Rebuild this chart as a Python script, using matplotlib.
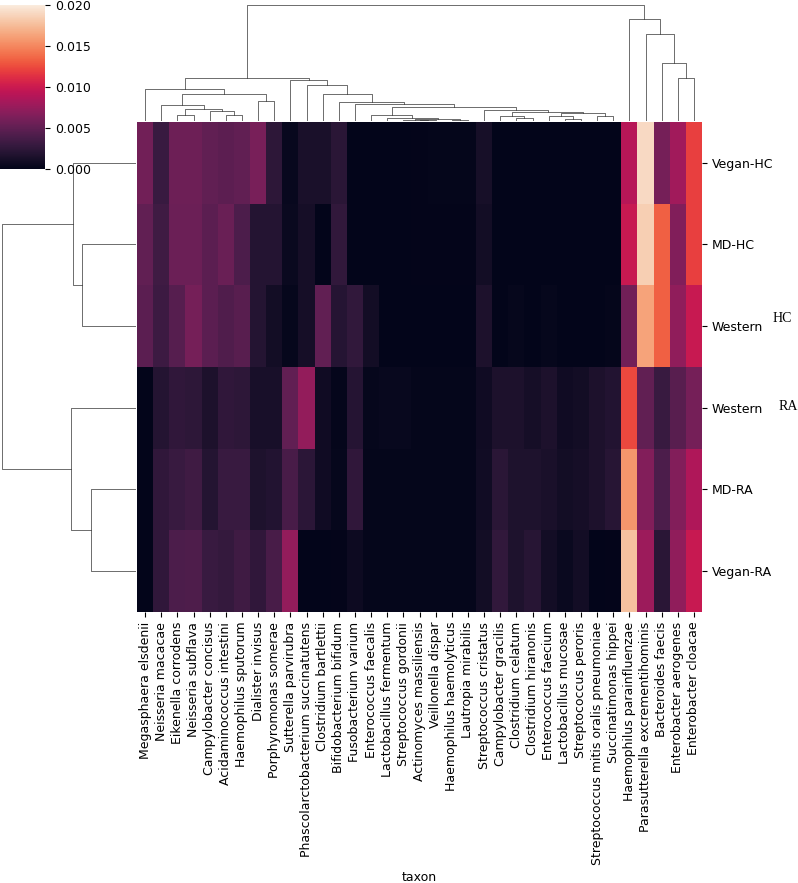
import matplotlib
matplotlib.use("Agg")
import matplotlib.pyplot as plt
import matplotlib.transforms as mtransforms
import numpy as np
import pandas as pd
import seaborn as sns

# ---------------------------------------------------------------------------
# Data (displayed order)
# ---------------------------------------------------------------------------
taxa = [
    "Megasphaera elsdenii", "Neisseria macacae", "Eikenella corrodens",
    "Neisseria subflava", "Campylobacter concisus", "Acidaminococcus intestini",
    "Haemophilus sputorum", "Dialister invisus", "Porphyromonas somerae",
    "Sutterella parvirubra", "Phascolarctobacterium succinatutens",
    "Clostridium bartlettii", "Bifidobacterium bifidum", "Fusobacterium varium",
    "Enterococcus faecalis", "Lactobacillus fermentum", "Streptococcus gordonii",
    "Actinomyces massiliensis", "Veillonella dispar", "Haemophilus haemolyticus",
    "Lautropia mirabilis", "Streptococcus cristatus", "Campylobacter gracilis",
    "Clostridium celatum", "Clostridium hiranonis", "Enterococcus faecium",
    "Lactobacillus mucosae", "Streptococcus peroris",
    "Streptococcus mitis oralis pneumoniae", "Succinatimonas hippei",
    "Haemophilus parainfluenzae", "Parasutterella excrementihominis",
    "Bacteroides faecis", "Enterobacter aerogenes", "Enterobacter cloacae",
]

groups = ["Vegan-HC", "MD-HC", "Western", "Western", "MD-RA", "Vegan-RA"]
group_suffix = {2: "HC", 3: "RA"}

vegan_hc = [0.0058, 0.0030, 0.0056, 0.0056, 0.0050, 0.0048, 0.0050, 0.0061, 0.0024,
            0.0004, 0.0014, 0.0014, 0.0022, 0.0, 0.0, 0.0, 0.0, 0.0001, 0.0002,
            0.0002, 0.0002, 0.0012, 0.0, 0.0, 0.0, 0.0, 0.0, 0.0, 0.0, 0.0,
            0.0090, 0.0190, 0.0060, 0.0080, 0.0120]
md_hc = [0.0050, 0.0033, 0.0055, 0.0055, 0.0047, 0.0054, 0.0040, 0.0019, 0.0019,
         0.0005, 0.0011, 0.0, 0.0026, 0.0, 0.0, 0.0, 0.0, 0.0001, 0.0001,
         0.0001, 0.0001, 0.0010, 0.0, 0.0, 0.0, 0.0, 0.0, 0.0, 0.0, 0.0,
         0.0098, 0.0185, 0.0133, 0.0065, 0.0120]
western_hc = [0.0047, 0.0032, 0.0045, 0.0060, 0.0047, 0.0042, 0.0046, 0.0019, 0.0010,
              0.0003, 0.0011, 0.0050, 0.0020, 0.0026, 0.0010, 0.0, 0.0, 0.0, 0.0,
              0.0, 0.0, 0.0015, 0.0, 0.0003, 0.0, 0.0003, 0.0, 0.0, 0.0, 0.0002,
              0.0058, 0.0163, 0.0133, 0.0072, 0.0098]
western_ra = [0.0, 0.0019, 0.0025, 0.0024, 0.0015, 0.0025, 0.0024, 0.0013, 0.0013,
              0.0050, 0.0074, 0.0008, 0.0002, 0.0020, 0.0003, 0.0004, 0.0004, 0.0002,
              0.0002, 0.0002, 0.0002, 0.0008, 0.0015, 0.0015, 0.0011, 0.0015, 0.0008,
              0.0010, 0.0015, 0.0018, 0.0124, 0.0050, 0.0030, 0.0046, 0.0060]
md_ra = [0.0, 0.0025, 0.0030, 0.0033, 0.0019, 0.0030, 0.0030, 0.0016, 0.0018,
         0.0038, 0.0023, 0.0008, 0.0003, 0.0025, 0.0002, 0.0002, 0.0002, 0.0002,
         0.0002, 0.0002, 0.0002, 0.0009, 0.0022, 0.0016, 0.0016, 0.0014, 0.0010,
         0.0011, 0.0015, 0.0021, 0.0157, 0.0066, 0.0040, 0.0066, 0.0086]
vegan_ra = [0.0, 0.0025, 0.0040, 0.0041, 0.0030, 0.0028, 0.0033, 0.0025, 0.0038,
            0.0074, 0.0, 0.0, 0.0001, 0.0007, 0.0002, 0.0002, 0.0002, 0.0002,
            0.0002, 0.0002, 0.0002, 0.0010, 0.0026, 0.0016, 0.0021, 0.0010, 0.0005,
            0.0010, 0.0, 0.0001, 0.0178, 0.0078, 0.0022, 0.0072, 0.0098]

# Linkage trees as nested (height, left, right); leaves are display indices
# left block of taxa (0-8)
a4 = (0.0029, 4, (0.0019, 5, 6))
a3 = (0.0036, (0.0019, 2, 3), a4)
a2 = (0.0049, 1, a3)
a1 = (0.0083, a2, (0.0062, 7, 8))
a0 = (0.0098, 0, a1)
# middle block (9-29)
b9 = (0.0006, (0.00045, 16, (0.0003, 17, 18)), (0.0003, 19, 20))
b6 = (0.0019, 14, (0.0009, 15, b9))
b12 = (0.0023, (0.0016, 25, (0.0006, 26, 27)), (0.0016, 28, 29))
b10 = (0.0026, (0.0016, 22, (0.0009, 23, 24)), b12)
b7 = (0.0033, 21, b10)
b4 = (0.0051, 13, (0.0041, b6, b7))
b1 = (0.0108, 10, (0.0083, 11, (0.0059, 12, b4)))
b0 = (0.0125, 9, b1)
# right block (30-34)
c0 = (0.0309, 30, (0.0264, 31, (0.0174, 32, (0.0129, 33, 34))))
col_tree = (0.0351, (0.0129, a0, b0), c0)

row_tree = (0.0270,
            (0.0126, 0, (0.0108, 1, 2)),
            (0.0130, 3, (0.0090, 4, 5)))


def tree_segments(node):
    """Return (position, height, segments) for a nested linkage tree."""
    if isinstance(node, int):
        return node * 10 + 5, 0.0, []
    h, left, right = node
    pl, hl, sl = tree_segments(left)
    pr, hr, sr = tree_segments(right)
    seg = [[(pl, hl), (pl, h), (pr, h), (pr, hr)]]
    return (pl + pr) / 2, h, sl + sr + seg


W, H = 798, 883
FS = 9
fig = plt.figure(figsize=(W / 100, H / 100), dpi=100)


def px_axes(x0, y0, x1, y1):
    return fig.add_axes([x0 / W, 1 - y1 / H, (x1 - x0) / W, (y1 - y0) / H])


ax_heat = px_axes(137, 122, 702, 612)
ax_col = px_axes(137, -0.8, 702, 121)
ax_row = px_axes(-4.7, 122, 136, 612)
ax_cbar = px_axes(0, 5, 45, 169)

df = pd.DataFrame([vegan_hc, md_hc, western_hc, western_ra, md_ra, vegan_ra],
                  index=groups, columns=pd.Index(taxa, name="taxon"))

sns.heatmap(df, ax=ax_heat, cbar_ax=ax_cbar, cmap="rocket", vmin=0, vmax=0.02,
            xticklabels=True, yticklabels=True)
ax_heat.yaxis.tick_right()
ax_heat.yaxis.set_label_position("right")
ax_heat.set_ylabel("")
ax_heat.set_xlabel("taxon", fontsize=FS)
plt.setp(ax_heat.get_yticklabels(), rotation=0, fontsize=FS)
plt.setp(ax_heat.get_xticklabels(), rotation=90, fontsize=FS)
ax_cbar.tick_params(labelsize=FS)

# odd serif suffixes beside the two "Western" rows
tr = mtransforms.blended_transform_factory(ax_heat.transAxes, ax_heat.transData)
for row, suffix in group_suffix.items():
    dy = -0.09 if suffix == "HC" else -0.02
    dx = 1.124 if suffix == "HC" else 1.136
    ax_heat.text(dx, row + 0.5 + dy, suffix, transform=tr, family="Liberation Serif",
                 fontsize=10, va="center", ha="left")

# column dendrogram
_, _, segs = tree_segments(col_tree)
for s in segs:
    xs, ys = zip(*s)
    ax_col.plot(xs, ys, color=(.2, .2, .2), linewidth=.5)
ax_col.set_xlim(0, 10 * len(taxa))
ax_col.set_ylim(0, col_tree[0] * 1.05)
ax_col.set_axis_off()

# row dendrogram
_, _, segs = tree_segments(row_tree)
for s in segs:
    ys, xs = zip(*s)
    ax_row.plot(xs, ys, color=(.2, .2, .2), linewidth=.5)
ax_row.set_ylim(10 * len(groups), 0)
ax_row.set_xlim(row_tree[0] * 1.05, 0)
ax_row.set_axis_off()

fig.savefig("out.png", dpi=100)
